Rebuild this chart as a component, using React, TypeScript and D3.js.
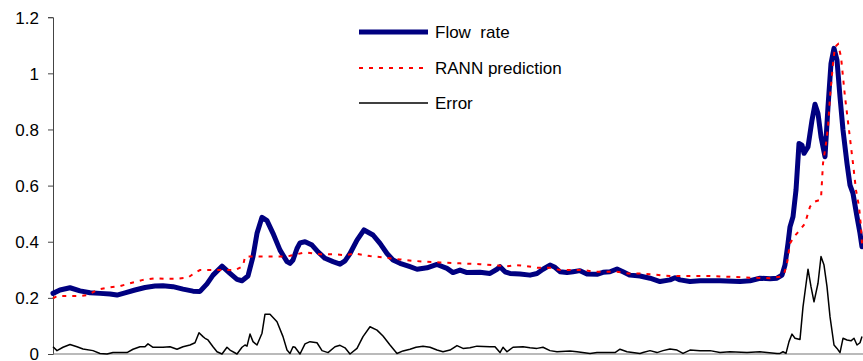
import React, { useEffect, useRef } from "react";
import * as d3 from "d3";

// sample index (0..810) and values
const flowT = [0,7,17,27,37,47,57,64,72,82,92,102,110,120,130,140,147,154,160,169,177,184,189,195,200,204,209,214,220,227,234,237,240,244,247,252,259,265,272,280,287,292,297,304,311,320,327,334,340,347,357,364,374,384,394,400,407,414,427,437,444,447,452,457,467,477,484,490,497,502,507,514,520,527,534,544,550,557,564,570,577,587,597,607,617,622,627,637,647,667,687,697,707,717,724,729,732,735,737,740,743,746,749,751,755,759,762,765,768,772,775,778,781,784,787,790,794,797,800,804,807,809];
const flowV = [0.216,0.228,0.236,0.225,0.218,0.216,0.214,0.21,0.218,0.228,0.237,0.242,0.243,0.24,0.231,0.224,0.223,0.25,0.281,0.313,0.287,0.266,0.261,0.278,0.347,0.43,0.487,0.475,0.43,0.37,0.329,0.323,0.335,0.376,0.396,0.4,0.388,0.364,0.341,0.329,0.32,0.332,0.358,0.406,0.442,0.424,0.394,0.358,0.335,0.323,0.311,0.302,0.307,0.319,0.305,0.29,0.299,0.29,0.291,0.287,0.302,0.311,0.293,0.287,0.285,0.281,0.287,0.302,0.317,0.309,0.293,0.29,0.293,0.297,0.285,0.284,0.291,0.293,0.303,0.293,0.281,0.278,0.27,0.258,0.264,0.272,0.264,0.258,0.261,0.261,0.258,0.261,0.27,0.268,0.27,0.281,0.317,0.394,0.453,0.489,0.584,0.75,0.744,0.715,0.738,0.833,0.89,0.857,0.774,0.703,0.881,1.035,1.089,1.047,0.916,0.798,0.679,0.602,0.572,0.489,0.43,0.382];

const predT = [0,4,12,27,35,45,55,67,79,90,102,112,124,135,142,147,152,162,172,182,190,192,197,207,217,227,237,252,267,282,292,302,317,330,347,360,372,387,407,427,442,455,462,474,485,497,507,519,530,542,553,564,575,587,597,617,637,657,697,717,727,731,734,737,741,747,752,757,761,766,768,770,773,775,777,780,782,785,788,792,796,800,803,806,808,809];
const predV = [0.198,0.207,0.207,0.207,0.21,0.23,0.237,0.242,0.254,0.264,0.27,0.268,0.268,0.272,0.29,0.299,0.299,0.299,0.299,0.299,0.313,0.347,0.347,0.347,0.347,0.347,0.35,0.362,0.355,0.355,0.352,0.358,0.349,0.344,0.337,0.332,0.329,0.326,0.323,0.32,0.316,0.313,0.317,0.313,0.307,0.307,0.299,0.299,0.299,0.293,0.293,0.293,0.287,0.287,0.284,0.278,0.278,0.278,0.272,0.27,0.275,0.284,0.323,0.394,0.418,0.442,0.465,0.525,0.542,0.548,0.554,0.679,0.75,0.809,0.916,1.035,1.094,1.104,1.059,0.916,0.798,0.679,0.584,0.525,0.453,0.394];

const errT = [0,4,10,17,24,30,40,47,54,60,67,74,80,87,92,95,100,110,117,124,130,137,142,146,150,152,155,160,164,169,174,177,184,189,192,194,197,200,204,209,212,217,224,230,234,237,240,242,247,252,257,264,269,275,282,287,292,297,304,310,317,324,330,337,344,350,357,363,370,377,384,390,397,404,410,417,424,437,442,447,450,454,460,470,477,484,490,497,504,517,524,537,544,550,562,567,574,587,590,597,604,610,617,624,630,637,647,657,667,677,694,707,724,727,730,733,736,739,742,747,750,755,758,761,765,768,771,774,777,781,784,787,790,794,798,801,804,807,809];
const errV = [0.026,0.012,0.024,0.034,0.026,0.018,0.012,0.002,0,0.005,0.005,0.005,0.017,0.026,0.026,0.036,0.024,0.024,0.026,0.017,0.026,0.032,0.04,0.076,0.062,0.056,0.05,0.026,0.008,0,0.024,0.014,0,0.024,0.032,0.028,0.071,0.044,0.032,0.074,0.142,0.142,0.115,0.062,0.014,0.002,0.026,0.024,0,0.036,0.044,0.04,0.012,0.005,0.026,0.031,0.022,0,0.02,0.062,0.097,0.085,0.064,0.032,0.002,0.011,0.017,0.024,0.028,0.024,0.014,0.008,0.014,0.03,0.02,0.022,0.028,0.026,0.026,0.005,0.024,0.008,0.024,0.026,0.022,0.02,0.024,0.012,0.008,0.011,0.008,0.002,0.005,0.005,0.005,0.017,0.008,0.002,0.005,0.012,0.005,0.012,0.018,0.014,0.002,0.014,0.012,0.012,0.005,0.008,0.005,0.008,0.002,0.002,0.008,0.002,0.044,0.071,0.056,0.052,0.168,0.302,0.24,0.186,0.252,0.347,0.317,0.24,0.133,0.032,0.02,0.005,0.056,0.05,0.047,0.056,0.032,0.04,0.062,0.092,0.121];

const yTicks = [0, 0.2, 0.4, 0.6, 0.8, 1, 1.2];
const yTickLabels = ["0", "0.2", "0.4", "0.6", "0.8", "1", "1.2"];
const legendLabels = ["Flow\u00a0 rate", "RANN prediction", "Error"];

export default function App() {
  const ref = useRef<SVGSVGElement>(null);
  useEffect(() => {
    document.body.style.margin = "0";
    const svg = d3.select(ref.current);
    svg.selectAll("*").remove();
    const W = 863, H = 361;
    const left = 53, right = 863, top = 17.2, bottom = 354;
    const x = d3.scaleLinear().domain([0, 810]).range([left, right]);
    const y = d3.scaleLinear().domain([0, 1.2]).range([bottom, top]);
    const font = "'Liberation Sans', Arial, sans-serif";

    svg.append("rect").attr("width", W).attr("height", H).attr("fill", "#fff");

    // axes
    const yAxis = d3.axisLeft(y).tickValues(yTicks).tickSize(5).tickFormat((_d, i) => yTickLabels[i]);
    const gy = svg.append("g").attr("transform", `translate(${left},0)`).call(yAxis);
    gy.select(".domain").attr("stroke", "#444").attr("stroke-width", 1);
    gy.selectAll(".tick line").attr("stroke", "#444");
    gy.selectAll(".tick text").attr("font-family", font).attr("font-size", 17).attr("fill", "#000").attr("x", -14).attr("dy", "0.35em");

    svg.append("line").attr("x1", left).attr("x2", right).attr("y1", y(0)).attr("y2", y(0)).attr("stroke", "#777").attr("stroke-width", 1.2);

    const line = d3.line<[number, number]>().x(d => x(d[0])).y(d => y(d[1]));
    const zip = (t: number[], v: number[]) => t.map((tt, i) => [tt, v[i]] as [number, number]);

    svg.append("path").datum(zip(errT, errV)).attr("d", line).attr("fill", "none").attr("stroke", "#000").attr("stroke-width", 1.5).attr("stroke-linejoin", "round");
    svg.append("path").datum(zip(flowT, flowV)).attr("d", line).attr("fill", "none").attr("stroke", "#000080").attr("stroke-width", 5).attr("stroke-linejoin", "round").attr("stroke-linecap", "round");
    svg.append("path").datum(zip(predT, predV)).attr("d", line).attr("fill", "none").attr("stroke", "#ff0000").attr("stroke-width", 2).attr("stroke-dasharray", "4,6");

    // legend
    const lg = svg.append("g");
    const rows = [32, 68, 103];
    const styles = [
      { c: "#000080", w: 5, dash: null },
      { c: "#ff0000", w: 2, dash: "4,6" },
      { c: "#000", w: 1.5, dash: null },
    ];
    legendLabels.forEach((lab, i) => {
      const s = styles[i];
      const l = lg.append("line").attr("x1", 359).attr("x2", 428).attr("y1", rows[i]).attr("y2", rows[i]).attr("stroke", s.c).attr("stroke-width", s.w);
      if (s.dash) l.attr("stroke-dasharray", s.dash);
      lg.append("text").attr("x", 435).attr("y", rows[i]).attr("dy", "0.35em").attr("font-family", font).attr("font-size", 17).attr("fill", "#000").text(lab);
    });
  }, []);
  return <svg ref={ref} width={863} height={361} style={{ display: "block" }} />;
}
